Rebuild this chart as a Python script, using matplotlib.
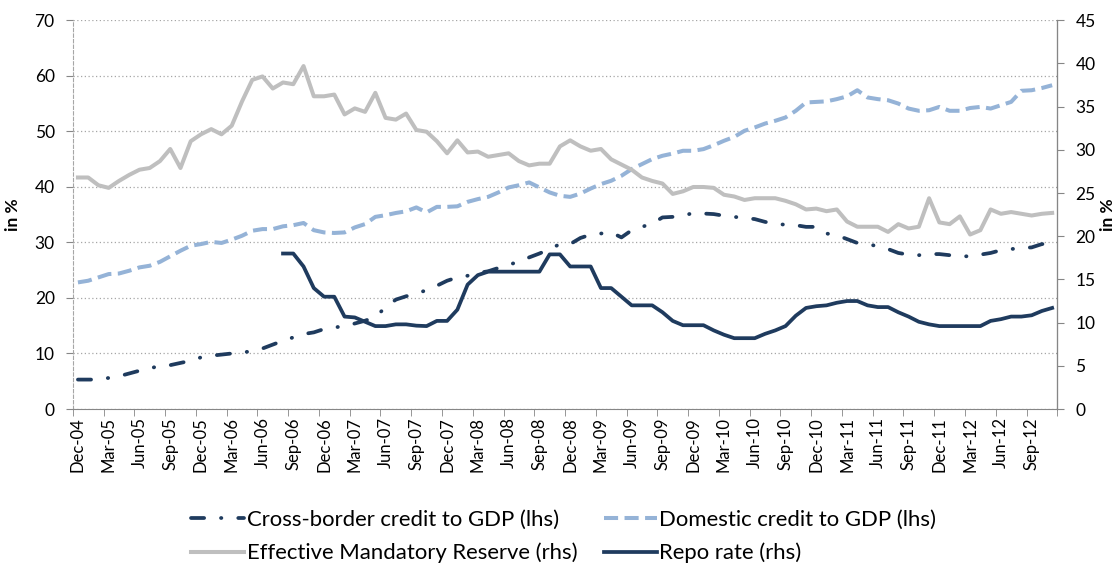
import matplotlib.pyplot as plt
import numpy as np
import pandas as pd

plt.rcParams['font.family'] = ['Lato', 'DejaVu Sans']

# monthly categories Dec-04 .. Nov-12
months = pd.date_range('2004-12-01', periods=96, freq='MS')
month_labels = [d.strftime('%b-%y') for d in months]

# Cross-border credit to GDP (lhs, %)
cross_border = [
    5.3, 5.3, 5.3, 5.6, 5.9, 6.4, 6.9, 7.3, 7.8, 7.9, 8.3, 8.7,
    9.3, 9.6, 9.8, 10.0, 10.2, 10.4, 10.9, 11.6, 12.3, 12.9, 13.5, 13.8,
    14.4, 14.7, 14.9, 15.4, 15.9, 16.6, 18.3, 19.7, 20.3, 20.8, 21.4, 22.2,
    23.1, 23.7, 24.0, 24.5, 24.8, 25.4, 26.0, 26.5, 27.3, 28.0, 28.8, 29.7,
    29.7, 30.8, 31.4, 31.6, 31.8, 30.9, 32.2, 32.8, 33.4, 34.5, 34.6, 34.8,
    35.3, 35.2, 35.1, 34.8, 34.6, 34.4, 34.2, 33.7, 33.3, 33.2, 33.1, 32.8,
    32.8, 31.6, 31.3, 30.6, 29.9, 29.7, 29.3, 28.8, 28.1, 27.8, 27.7, 27.9,
    27.9, 27.7, 27.5, 27.5, 27.8, 28.1, 28.6, 28.8, 29.0, 29.1, 29.7, 29.7,
]

# Domestic credit to GDP (lhs, %)
domestic = [
    22.8, 23.1, 23.7, 24.3, 24.4, 24.9, 25.5, 25.8, 26.5, 27.5, 28.5, 29.4,
    29.7, 30.1, 29.9, 30.5, 31.2, 32.1, 32.4, 32.4, 32.9, 33.1, 33.5, 32.2,
    31.8, 31.7, 31.8, 32.7, 33.3, 34.6, 34.9, 35.3, 35.6, 36.3, 35.4, 36.4,
    36.4, 36.5, 37.3, 37.8, 38.2, 39.0, 39.9, 40.3, 40.8, 39.9, 39.0, 38.4,
    38.2, 38.8, 39.7, 40.5, 41.1, 42.0, 43.2, 44.1, 45.0, 45.6, 46.0, 46.5,
    46.5, 46.8, 47.5, 48.3, 49.0, 50.1, 50.7, 51.4, 51.9, 52.5, 53.7, 55.2,
    55.3, 55.4, 55.8, 56.3, 57.4, 56.1, 55.8, 55.6, 55.0, 54.1, 53.7, 53.8,
    54.4, 53.7, 53.7, 54.2, 54.4, 54.1, 54.7, 55.3, 57.3, 57.4, 57.8, 58.3,
]

# Effective Mandatory Reserve (rhs, %)
reserve = [
    26.8, 26.8, 25.9, 25.6, 26.4, 27.1, 27.7, 27.9, 28.7, 30.1, 27.9, 31.0,
    31.8, 32.4, 31.8, 32.8, 35.6, 38.1, 38.5, 37.1, 37.8, 37.6, 39.7, 36.2,
    36.2, 36.4, 34.1, 34.8, 34.4, 36.6, 33.7, 33.5, 34.2, 32.3, 32.1, 31.0,
    29.6, 31.1, 29.7, 29.8, 29.2, 29.4, 29.6, 28.7, 28.2, 28.4, 28.4, 30.4,
    31.1, 30.4, 29.9, 30.1, 28.9, 28.3, 27.7, 26.8, 26.4, 26.1, 24.9, 25.2,
    25.7, 25.7, 25.6, 24.8, 24.6, 24.2, 24.4, 24.4, 24.4, 24.1, 23.7, 23.1,
    23.2, 22.9, 23.1, 21.7, 21.1, 21.1, 21.1, 20.5, 21.4, 20.9, 21.1, 24.4,
    21.6, 21.4, 22.3, 20.2, 20.7, 23.1, 22.6, 22.8, 22.6, 22.4, 22.6, 22.7,
]

# Repo rate (rhs, %), starts Aug-06
repo = [np.nan] * 20 + [
    18.0, 18.0, 16.5, 14.0,
    13.0, 13.0, 10.7, 10.6, 10.1, 9.6, 9.6, 9.8, 9.8, 9.65, 9.6, 10.2,
    10.2, 11.5, 14.4, 15.5, 15.9, 15.9, 15.9, 15.9, 15.9, 15.9, 17.9, 17.9,
    16.5, 16.5, 16.5, 14.0, 14.0, 13.0, 12.0, 12.0, 12.0, 11.2, 10.2, 9.7,
    9.7, 9.7, 9.1, 8.6, 8.2, 8.2, 8.2, 8.7, 9.1, 9.6, 10.8, 11.7,
    11.9, 12.0, 12.3, 12.5, 12.5, 12.0, 11.8, 11.8, 11.2, 10.7, 10.1, 9.8,
    9.6, 9.6, 9.6, 9.6, 9.6, 10.2, 10.4, 10.7, 10.7, 10.85, 11.35, 11.7,
]

x = np.arange(len(months))
navy = '#1F3B5E'
light_blue = '#95B3D7'
grey = '#BFBFBF'

fig = plt.figure(figsize=(11.2, 5.63), dpi=100)
ax = fig.add_axes([0.065, 0.2735, 0.879, 0.6905])
ax2 = ax.twinx()

l1, = ax.plot(x, cross_border, color=navy, lw=2.7, linestyle=(0, (3.5, 4.5, 0.1, 4.5)),
              dash_capstyle='round', label='Cross-border credit to GDP (lhs)')
l2, = ax.plot(x, domestic, color=light_blue, lw=2.9, linestyle=(0, (3.5, 1.6)),
              label='Domestic credit to GDP (lhs)')
l3, = ax2.plot(x, reserve, color=grey, lw=2.9, solid_joinstyle='round',
               label='Effective Mandatory Reserve (rhs)')
l4, = ax2.plot(x, repo, color=navy, lw=2.7, solid_joinstyle='round', label='Repo rate (rhs)')

ax.set_xlim(-0.5, 95.5)
ax.set_ylim(0, 70)
ax2.set_ylim(0, 45)
ax.set_yticks(np.arange(0, 71, 10))
ax2.set_yticks(np.arange(0, 46, 5))

ax.set_xticks(x[::3])
ax.set_xticklabels(month_labels[::3], rotation=90)
ax.set_xticks(np.arange(-0.5, 96, 3), minor=True)
ax.tick_params(axis='x', which='major', length=0, pad=6, labelsize=12)
ax.tick_params(axis='x', which='minor', length=5, color='#868686', direction='out')
ax.tick_params(axis='y', length=5, color='#868686', labelsize=12.5, pad=8)
ax2.tick_params(axis='y', length=5, color='#868686', labelsize=12.5, pad=8)

ax.grid(axis='y', linestyle=(0, (1, 2)), color='#A6A6A6', lw=0.9)
ax.set_axisbelow(True)

for a in (ax, ax2):
    a.spines['top'].set_visible(False)
ax.spines['left'].set_linestyle((0, (3, 2)))
ax.spines['left'].set_color('#A6A6A6')
ax.spines['bottom'].set_color('#868686')
ax2.spines['right'].set_color('#868686')
ax2.spines['left'].set_visible(False)
ax2.spines['bottom'].set_visible(False)

ax.set_ylabel('in %', fontsize=12.5, fontweight='bold', labelpad=10)
ax2.set_ylabel('in %', fontsize=12.5, fontweight='bold', labelpad=3)

fig.legend(handles=[l1, l3, l2, l4], loc='upper left', bbox_to_anchor=(0.163, 0.11),
           ncol=2, frameon=False, fontsize=15.9, handlelength=2.4, handletextpad=0.1,
           columnspacing=1.2, labelspacing=0.58, borderaxespad=0)

fig.savefig('out.png', dpi=100)
